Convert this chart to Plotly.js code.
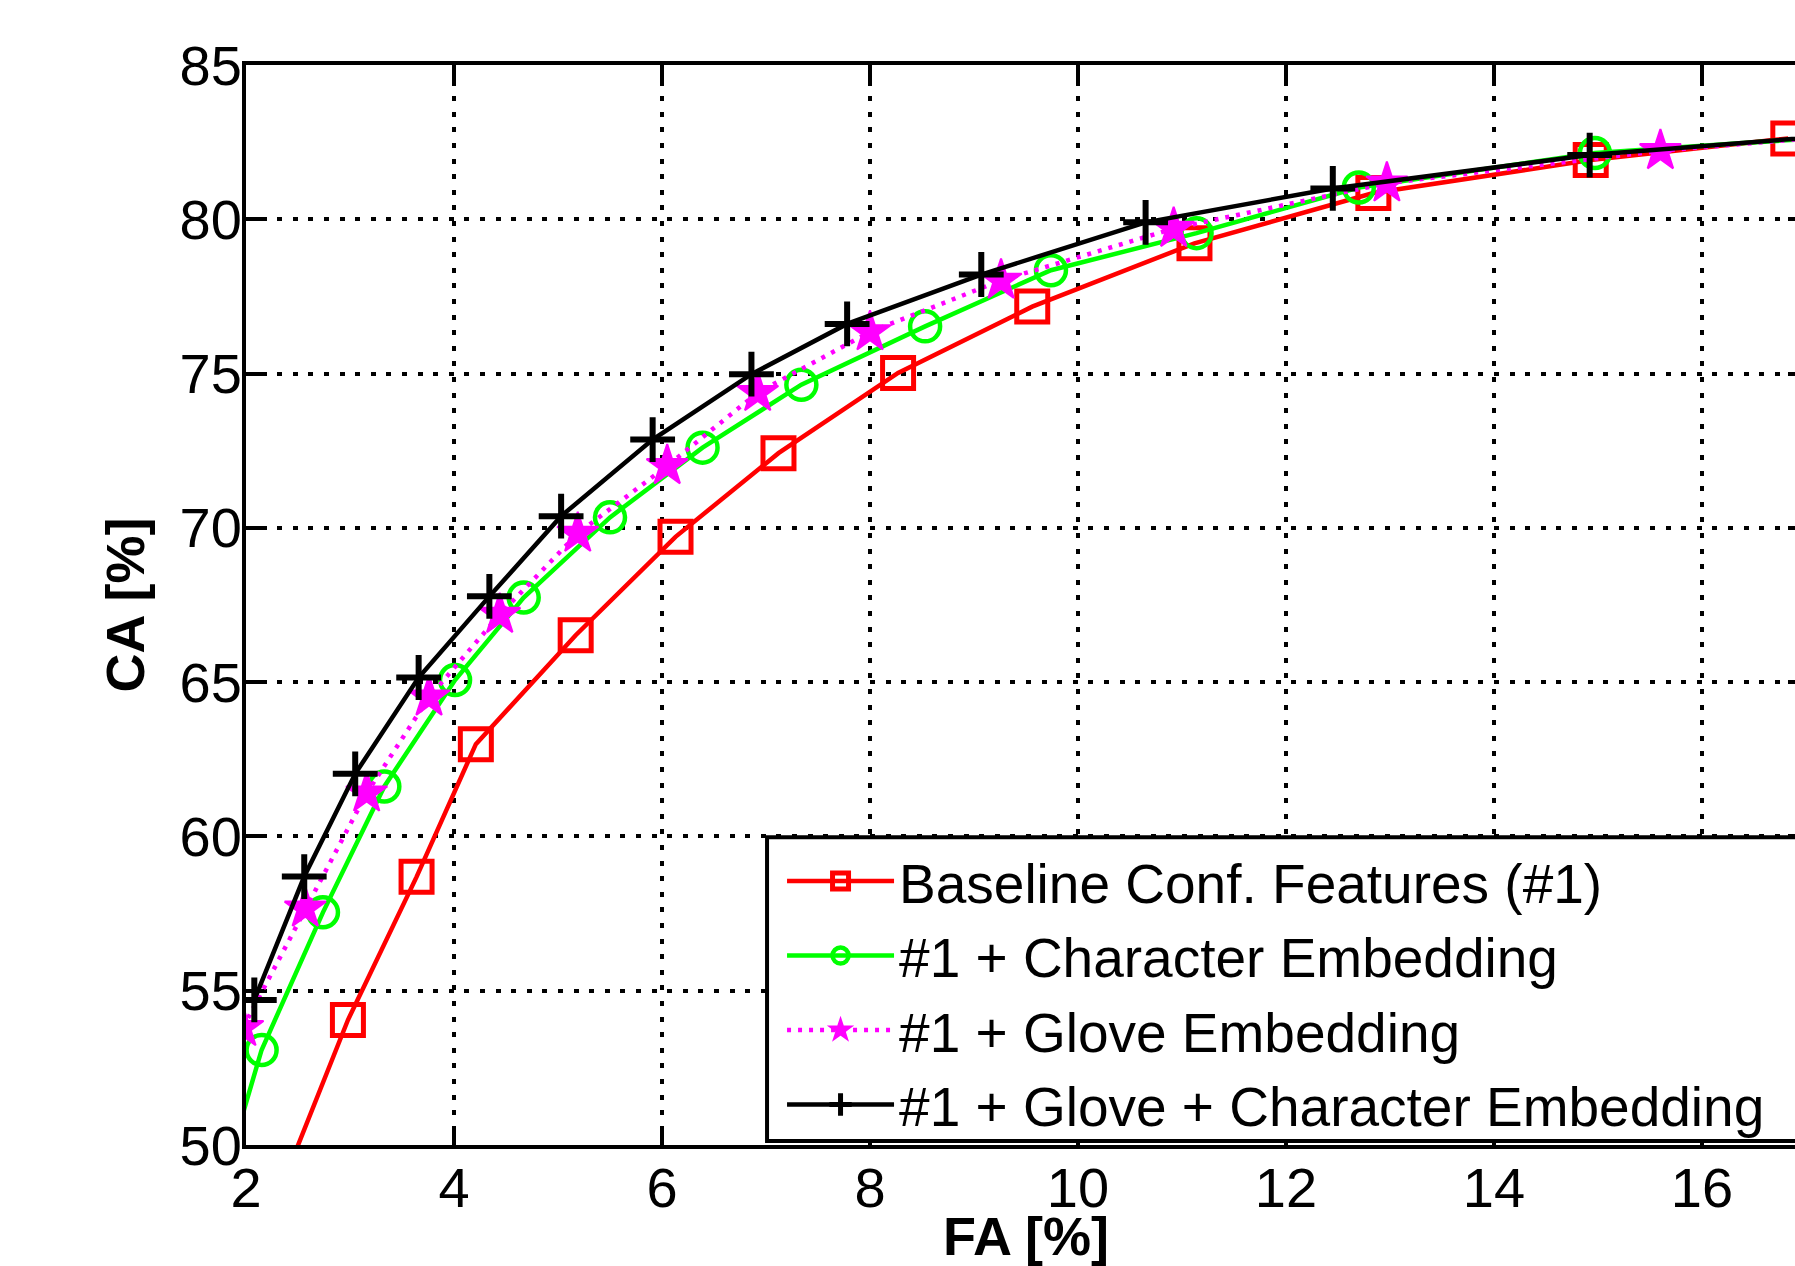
<!DOCTYPE html>
<html>
<head>
<meta charset="utf-8">
<script src="https://cdn.plot.ly/plotly-3.0.1.min.js"></script>
<style>
html, body { margin: 0; padding: 0; overflow: hidden; background: #fff; }
#chart { width: 1830px; height: 1266px; }
</style>
</head>
<body>
<div id="chart"></div>
<script>
// Series names
const seriesNames = [
  "Baseline Conf. Features (#1)",
  "#1 + Character Embedding",
  "#1 + Glove Embedding",
  "#1 + Glove + Character Embedding"
];

// Baseline (#1): FA [%] and CA [%]
const baseFA = [2.30, 2.98, 3.64, 4.21, 5.17, 6.13, 7.12, 8.27, 9.56, 11.12, 12.84, 14.93, 16.83];
const baseCA = [48.3, 54.05, 58.69, 62.99, 66.52, 69.71, 72.42, 75.02, 77.17, 79.22, 80.85, 81.92, 82.62];

// #1 + Character Embedding
const charFA = [1.75, 2.15, 2.74, 3.33, 4.01, 4.67, 5.50, 6.39, 7.34, 8.53, 9.74, 11.14, 12.70, 14.97, 17.2];
const charCA = [48.5, 53.08, 57.54, 61.62, 65.07, 67.74, 70.34, 72.60, 74.64, 76.53, 78.35, 79.55, 81.03, 82.15, 82.65];

// #1 + Glove Embedding
const gloveFA = [1.97, 2.57, 3.16, 3.76, 4.44, 5.19, 6.05, 6.92, 8.00, 9.26, 10.92, 12.97, 15.60, 17.3];
const gloveCA = [53.8, 57.67, 61.40, 64.51, 67.19, 69.82, 72.01, 74.38, 76.35, 78.02, 79.70, 81.17, 82.22, 82.7];

// #1 + Glove + Character Embedding
const bothFA = [2.08, 2.56, 3.05, 3.66, 4.34, 5.03, 5.91, 6.86, 7.78, 9.07, 10.65, 12.45, 14.92, 17.6];
const bothCA = [54.70, 58.70, 62.03, 65.15, 67.78, 70.38, 72.86, 74.98, 76.61, 78.21, 79.90, 81.00, 82.08, 82.8];

// Axis ticks
const xTicks = [2, 4, 6, 8, 10, 12, 14, 16];
const yTicks = [50, 55, 60, 65, 70, 75, 80, 85];

const FONT = "Liberation Sans, Arial, sans-serif";

const traces = [
  {
    x: baseFA, y: baseCA, name: seriesNames[0], type: "scatter", mode: "lines+markers",
    line: { color: "#ff0000", width: 4.5 },
    marker: { symbol: "square-open", size: 31, color: "#ff0000", line: { color: "#ff0000", width: 5 } }
  },
  {
    x: charFA, y: charCA, name: seriesNames[1], type: "scatter", mode: "lines+markers",
    line: { color: "#00ff00", width: 4.5 },
    marker: { symbol: "circle-open", size: 30, color: "#00ff00", line: { color: "#00ff00", width: 4.5 } }
  },
  {
    x: gloveFA, y: gloveCA, name: seriesNames[2], type: "scatter", mode: "lines+markers",
    line: { color: "#ff00ff", width: 4.5, dash: "4px,7px" },
    marker: { symbol: "star", size: 31, color: "#ff00ff", line: { color: "#ff00ff", width: 2 } }
  },
  {
    x: bothFA, y: bothCA, name: seriesNames[3], type: "scatter", mode: "lines+markers",
    line: { color: "#000000", width: 4.5 },
    marker: { symbol: "cross-thin", size: 32, color: "#000000", line: { color: "#000000", width: 6 } }
  }
];

const axisCommon = {
  showline: true, linecolor: "#000", linewidth: 4, mirror: "ticks",
  ticks: "inside", ticklen: 18, tickwidth: 4, tickcolor: "#000",
  showgrid: true, gridcolor: "#000", gridwidth: 4, griddash: "5px,10.6px",
  zeroline: false,
  tickfont: { family: FONT, size: 56, color: "#000" }
};

const layout = {
  width: 1830, height: 1266,
  margin: { l: 246, r: 24, t: 65, b: 121 },
  paper_bgcolor: "#fff", plot_bgcolor: "#fff",
  showlegend: true,
  xaxis: Object.assign({}, axisCommon, {
    range: [2, 17], tickvals: xTicks, ticktext: xTicks.map(String),
    ticklabelstandoff: -9,
    title: { text: "FA [%]", font: { family: FONT, size: 54, color: "#000", weight: "bold" }, standoff: 28 },
    automargin: false
  }),
  yaxis: Object.assign({}, axisCommon, {
    range: [50, 85], tickvals: yTicks, ticktext: yTicks.map(String),
    ticklabelstandoff: -11,
    title: { text: "CA [%]", font: { family: FONT, size: 54, color: "#000", weight: "bold" }, standoff: 19 },
    automargin: false
  }),
  legend: {
    x: 0.334, y: 0.2835, xanchor: "left", yanchor: "top",
    bgcolor: "rgba(0,0,0,0)", borderwidth: 0,
    font: { family: FONT, size: 55, color: "#000" },
    itemwidth: 107, indentation: 15, tracegroupgap: 0
  },
  shapes: [{
    type: "rect", xref: "paper", yref: "paper", layer: "above",
    x0: 0.334, x1: 1.06, y0: 0.0037, y1: 0.285,
    fillcolor: "#fff", line: { color: "#000", width: 4 }
  }]
};

Plotly.newPlot("chart", traces, layout, { displayModeBar: false, staticPlot: true });
</script>
</body>
</html>
